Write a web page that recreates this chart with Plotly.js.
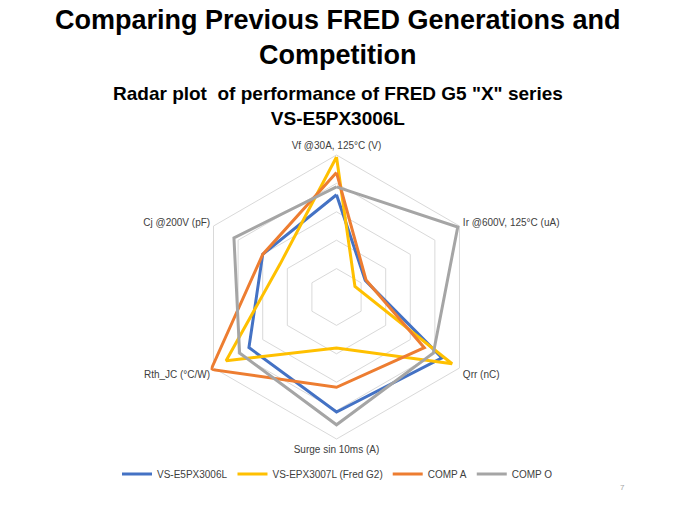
<!DOCTYPE html>
<html>
<head>
<meta charset="utf-8">
<script src="https://cdn.plot.ly/plotly-3.0.1.min.js"></script>
<style>html,body{margin:0;padding:0;background:#fff}#chart{width:675px;height:506px}</style>
</head>
<body>
<div id="chart"></div>
<script>
const categories = ["Vf @30A, 125°C (V)", "Ir @600V, 125°C (uA)", "Qrr (nC)", "Surge sin 10ms (A)", "Rth_JC (°C/W)", "Cj @200V (pF)"];
const seriesNames = ["VS-E5PX3006L", "VS-EPX3007L (Fred G2)", "COMP A", "COMP O"];
const e5px3006l = [3.6, 1.17, 4.29, 4.05, 3.56, 3.0];
const epx3007l = [4.93, 0.75, 4.7, 1.8, 4.49, 2.3];
const compA = [4.38, 1.2, 3.57, 3.18, 5.1, 3.0];
const compO = [3.88, 4.93, 3.94, 4.5, 3.94, 4.17];
const colors = ["#4472C4", "#FFC000", "#ED7D31", "#A5A5A5"];

const allValues = [e5px3006l, epx3007l, compA, compO];
const close = a => a.concat([a[0]]);
const traces = allValues.map((vals, i) => ({
  type: "scatterpolar",
  mode: "lines",
  r: close(vals),
  theta: close(categories),
  name: seriesNames[i],
  line: {color: colors[i], width: 3},
  cliponaxis: false
}));

const W = 675, H = 506;
const cx = 336.5, cy = 297, rmax = 5.12, unit = 28.4;
const rad = rmax * unit;

const layout = {
  width: W, height: H,
  margin: {l: 0, r: 0, t: 0, b: 0},
  paper_bgcolor: "#ffffff",
  plot_bgcolor: "#ffffff",
  font: {family: "Liberation Sans, Arial, sans-serif", color: "#404040", size: 10},
  showlegend: true,
  legend: {
    orientation: "h", x: 0.5, xanchor: "center", y: (H - 474) / H, yanchor: "middle",
    font: {size: 10, color: "#404040"}, itemwidth: 30, tracegroupgap: 0
  },
  polar: {
    domain: {x: [(cx - rad) / W, (cx + rad) / W], y: [(H - cy - rad) / H, (H - cy + rad) / H]},
    gridshape: "linear",
    bgcolor: "rgba(0,0,0,0)",
    radialaxis: {
      range: [0, rmax], tickvals: [1, 2, 3, 4, 5], showticklabels: false, ticks: "",
      showline: false, showgrid: true, gridcolor: "#d9d9d9", gridwidth: 1
    },
    angularaxis: {
      rotation: 90, direction: "clockwise", showgrid: false, showline: false, ticks: "",
      tickfont: {size: 10, color: "#404040"}
    }
  },
  annotations: [
    {text: "<b>Comparing Previous FRED Generations and<br>Competition</b>", xref: "paper", yref: "paper",
     x: 0.5, y: 1 - 37 / H, xanchor: "center", yanchor: "middle", showarrow: false,
     font: {family: "Liberation Sans, Arial, sans-serif", size: 27, color: "#000000"}},
    {text: "<b>Radar plot  of performance of FRED G5 \"X\" series<br>VS-E5PX3006L</b>", xref: "paper", yref: "paper",
     x: 0.5, y: 1 - 106 / H, xanchor: "center", yanchor: "middle", showarrow: false,
     font: {family: "Liberation Sans Narrow, Arial Narrow, sans-serif", size: 19, color: "#000000"}},
    {text: "7", xref: "paper", yref: "paper", x: 622 / W, y: 1 - 487 / H, xanchor: "center", yanchor: "middle",
     showarrow: false, font: {size: 8, color: "#a6a6a6"}}
  ]
};

Plotly.newPlot("chart", traces, layout, {displayModeBar: false, staticPlot: true});
</script>
</body>
</html>
